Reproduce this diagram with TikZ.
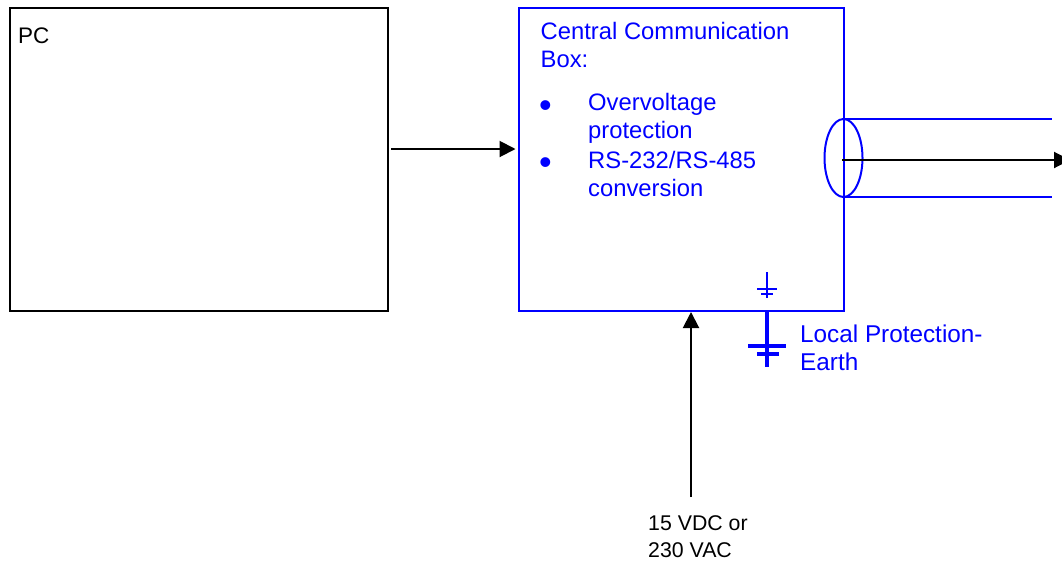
\documentclass[tikz,border=0pt]{standalone}
\usepackage{fontspec}
\setmainfont{Liberation Sans}
\usetikzlibrary{arrows.meta,shapes.geometric}
\definecolor{boxblue}{RGB}{0,0,255}
\tikzset{
  x=1pt,y=-1pt,
  boxshape/.style={draw,line width=2.5pt,inner sep=0pt,anchor=north west},
  txt/.style={inner sep=0pt,anchor=base west,align=left},
  bluetxt/.style={txt,text=boxblue,font=\fontsize{23.8}{27.5}\selectfont},
  blacktxt/.style={txt,text=black,font=\fontsize{21.3}{27}\selectfont},
  bulletmark/.style={txt,text=boxblue,font=\fontsize{36}{36}\selectfont},
  conn/.style={draw=black,line width=2pt,-{Triangle[length=16pt,width=16pt]}},
  wire/.style={draw=boxblue,line width=2pt},
}
\begin{document}
\begin{tikzpicture}
\useasboundingbox (0,0) rectangle (1062,568);
% boxes
\node[boxshape,minimum width=325pt,minimum height=303pt,draw=boxblue] (ccb) at (517.5,6.5) {};
\node[boxshape,minimum width=378pt,minimum height=303pt] (pc) at (8.5,6.5) {};
% texts
\node[blacktxt,font=\fontsize{22.5}{27}\selectfont] (pclabel) at (18,43) {PC};
\node[bluetxt] (title) at (540.5,67) {Central Communication\\Box:};
\node[bulletmark] (b1) at (539,117) {•};
\node[bluetxt] (over) at (588,138) {Overvoltage\\protection};
\node[bulletmark] (b2) at (539,174) {•};
\node[bluetxt] (rs) at (588,196) {RS-232/RS-485\\conversion};
\node[bluetxt,font=\fontsize{24.3}{28}\selectfont] (earth) at (800,370) {Local Protection-\\Earth};
\node[blacktxt] (power) at (648,557) {15 VDC or\\230 VAC};
% PC to box
\coordinate (pcout) at (391,149);
\coordinate (ccbin) at (515.5,149);
\draw[conn] (pcout) -- (ccbin);
% power
\coordinate (powertop) at (691,312);
\coordinate (powerbot) at (691,497);
\draw[conn] (powerbot) -- (powertop);
% cable
\node[draw=boxblue,line width=2pt,ellipse,inner sep=0pt,minimum width=38pt,minimum height=78pt] (cable) at (843.5,158) {};
\coordinate (ct1) at (1052,119);
\coordinate (ct2) at (1052,197);
\coordinate (cs1) at (844,119);
\coordinate (cs2) at (844,197);
\draw[wire] (cs1) -- (ct1);
\draw[wire] (cs2) -- (ct2);
\coordinate (cablestart) at (842,160);
\coordinate (cableend) at (1070,160);
\draw[conn] (cablestart) -- (cableend);
% small ground
\coordinate (g0) at (767,272);
\coordinate (g1) at (767,298);
\coordinate (g2a) at (757,289);
\coordinate (g2b) at (777,289);
\coordinate (g3a) at (761,294);
\coordinate (g3b) at (773,294);
\draw[wire,line width=2.8pt] (g0) -- (g1);
\draw[wire,line width=2.8pt] (g2a) -- (g2b);
\draw[wire,line width=2.8pt] (g3a) -- (g3b);
% large ground
\coordinate (e0) at (767,310);
\coordinate (e1) at (767,367);
\coordinate (e2a) at (748,346);
\coordinate (e2b) at (786,346);
\coordinate (e3a) at (757,353.5);
\coordinate (e3b) at (779,353.5);
\draw[wire,line width=4pt] (e0) -- (e1);
\draw[wire,line width=4pt] (e2a) -- (e2b);
\draw[wire,line width=4pt] (e3a) -- (e3b);
\end{tikzpicture}
\end{document}
